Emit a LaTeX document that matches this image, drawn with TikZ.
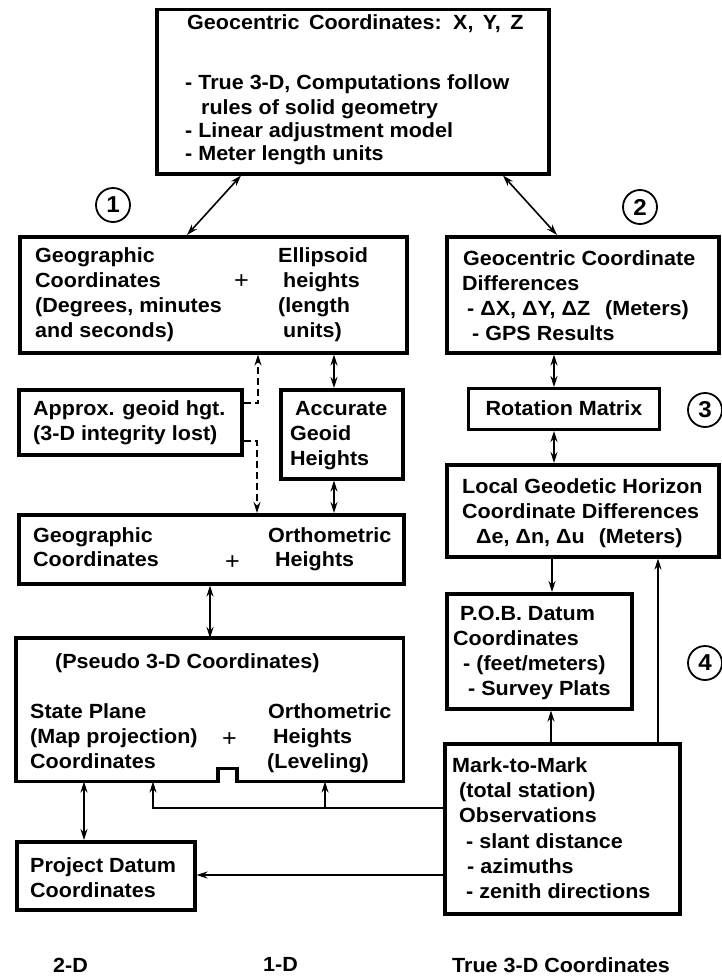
\documentclass[tikz,border=0pt]{standalone}
\usepackage{fontspec}
\setmainfont{Liberation Sans}[FakeStretch=1.05]
\usetikzlibrary{arrows.meta}
\tikzset{
  box/.style={draw, line width=3.5pt, anchor=north west, inner sep=0pt},
  txt/.style={anchor=base west, inner sep=0pt, font=\bfseries\fontsize{20.5}{25}\selectfont},
  plus/.style={anchor=base west, inner sep=0pt, font=\fontsize{24}{25}\selectfont},
  conn/.style={line width=1.6pt},
  arr/.style={conn, -{Stealth[length=11pt,width=7pt]}},
  darr/.style={conn, {Stealth[length=11pt,width=7pt]}-{Stealth[length=11pt,width=7pt]}},
  dashline/.style={dash pattern=on 7pt off 4pt},
  circ/.style={draw, circle, line width=1.8pt, minimum size=34pt, inner sep=0pt, font=\bfseries\fontsize{23}{24}\selectfont}
}
\begin{document}
\begin{tikzpicture}[x=1pt,y=-1pt]
\fill[white] (0,0) rectangle (721,979);
\useasboundingbox (0,0) rectangle (721,979);

% boxes
\node[box, minimum width=392pt, minimum height=164pt] (A) at (155,8) {};
\node[box, minimum width=387pt, minimum height=116pt] (B) at (18,235) {};
\node[box, minimum width=272pt, minimum height=116pt] (C) at (445,235) {};
\node[box, line width=3pt, minimum width=191pt, minimum height=41pt] (R) at (467,387) {};
\node[box, minimum width=272pt, minimum height=92pt] (L) at (445,463) {};
\node[box, minimum width=223pt, minimum height=65pt] (E) at (17,388) {};
\node[box, minimum width=122pt, minimum height=89pt] (F) at (279,388) {};
\node[box, minimum width=385pt, minimum height=69pt] (D) at (17,513) {};
\node[box, draw=none, minimum width=384pt, minimum height=140pt] (P) at (16,638) {};
\draw[line width=3.5pt, line join=miter] (P.south west) -- (218,0 |- P.south) -- ++(0,-13) -- ++(19,0) -- ++(0,13) -- (P.south east) -- (P.north east) -- (P.north west) -- cycle;
\node[box, minimum width=185pt, minimum height=115pt] (Q) at (445,592) {};
\node[box, minimum width=235pt, minimum height=170pt] (M) at (443,742) {};
\node[box, minimum width=178pt, minimum height=68pt] (G) at (15,840) {};

% circles
\node[circ] (c1) at (113,205) {1};
\node[circ] (c2) at (640,207) {2};
\node[circ] (c3) at (705,410) {3};
\node[circ] (c4) at (705,663) {4};

% texts A
\node[txt] (tA1) at (187,30) {Geocentric\, Coordinates:\, X,\, Y,\, Z};
\node[txt] (tA2) at (185,90) {- True 3-D, Computations follow};
\node[txt] (tA3) at (201,114) {rules of solid geometry};
\node[txt] (tA4) at (185,137) {- Linear adjustment model};
\node[txt] (tA5) at (185,160) {- Meter length units};
% texts B
\node[txt] (tB1) at (35,262) {Geographic};
\node[txt] (tB2) at (35,287) {Coordinates};
\node[txt] (tB3) at (35,312) {(Degrees, minutes};
\node[txt] (tB4) at (35,337) {and seconds)};
\node[plus] (tB5) at (234,288) {+};
\node[txt] (tB6) at (278,262) {Ellipsoid};
\node[txt] (tB7) at (283,287) {heights};
\node[txt] (tB8) at (278,312) {(length};
\node[txt] (tB9) at (283,337) {units)};
% texts C
\node[txt] (tC1) at (463,265) {Geocentric Coordinate};
\node[txt] (tC2) at (462,290) {Differences};
\node[txt] (tC3) at (467,315) {- ΔX, ΔY, ΔZ\hspace{9pt} (Meters)};
\node[txt] (tC4) at (472,340) {- GPS Results};
% Rotation
\node[txt, anchor=center] (tR) at ([yshift=1pt]R.center) {Rotation Matrix};
% Local
\node[txt] (tL1) at (462,493) {Local Geodetic Horizon};
\node[txt] (tL2) at (462,518) {Coordinate Differences};
\node[txt] (tL3) at (476,543) {Δe, Δn, Δu\hspace{8pt} (Meters)};
% E
\node[txt] (tE1) at (33,415) {Approx. geoid hgt.};
\node[txt] (tE2) at (33,440) {(3-D integrity lost)};
% F
\node[txt] (tF1) at (295,415) {Accurate};
\node[txt] (tF2) at (290,440) {Geoid};
\node[txt] (tF3) at (290,465) {Heights};
% D
\node[txt] (tD1) at (33,542) {Geographic};
\node[txt] (tD2) at (33,566) {Coordinates};
\node[plus] (tD3) at (225,569) {+};
\node[txt] (tD4) at (268,542) {Orthometric};
\node[txt] (tD5) at (275,566) {Heights};
% P
\node[txt] (tP1) at (55,668) {(Pseudo 3-D Coordinates)};
\node[txt] (tP2) at (30,718) {State Plane};
\node[txt] (tP3) at (30,743) {(Map projection)};
\node[txt] (tP4) at (30,768) {Coordinates};
\node[plus] (tP5) at (222,746) {+};
\node[txt] (tP6) at (268,718) {Orthometric};
\node[txt] (tP7) at (273,743) {Heights};
\node[txt] (tP8) at (267,768) {(Leveling)};
% Q
\node[txt] (tQ1) at (460,620) {P.O.B. Datum};
\node[txt] (tQ2) at (453,645) {Coordinates};
\node[txt] (tQ3) at (463,670) {- (feet/meters)};
\node[txt] (tQ4) at (468,695) {- Survey Plats};
% M
\node[txt] (tM1) at (452,772) {Mark-to-Mark};
\node[txt] (tM2) at (459,797) {(total station)};
\node[txt] (tM3) at (459,822) {Observations};
\node[txt] (tM4) at (466,848) {- slant distance};
\node[txt] (tM5) at (467,873) {- azimuths};
\node[txt] (tM6) at (466,898) {- zenith directions};
% G
\node[txt] (tG1) at (30,872) {Project Datum};
\node[txt] (tG2) at (30,897) {Coordinates};
% bottom labels
\node[txt] (l2) at (53,972) {2-D};
\node[txt] (l1) at (263,971) {1-D};
\node[txt] (l3) at (452,972) {True 3-D Coordinates};

% connectors
\draw[darr] (187,0 |- B.north) -- (241,0 |- A.south);
\draw[darr] (503,0 |- A.south) -- (557,0 |- C.north);
\draw[darr] (334,0 |- B.south) -- (334,0 |- F.north);
\draw[darr] (334,0 |- F.south) -- (334,0 |- D.north);
\draw[arr, dashline] (E.east |- 0,403) -- (258,403) -- (258,0 |- B.south);
\draw[arr, dashline] (E.east |- 0,441) -- (257,441) -- (257,0 |- D.north);
\draw[darr] (210,0 |- D.south) -- (210,0 |- P.north);
\draw[darr] (84,0 |- P.south) -- (84,0 |- G.north);
\coordinate (j1) at (325,808);
\draw[arr] (M.west |- 0,808) -- (153,808) -- (153,0 |- P.south);
\draw[arr] (j1) -- (325,0 |- P.south);
\draw[arr] (M.west |- 0,875) -- (G.east |- 0,875);
\draw[arr] (551,0 |- M.north) -- (551,0 |- Q.south);
\draw[arr] (658,0 |- M.north) -- (658,0 |- L.south);
\draw[arr] (552,0 |- L.south) -- (552,0 |- Q.north);
\draw[darr] (554,0 |- C.south) -- (554,0 |- R.north);
\draw[darr] (554,0 |- R.south) -- (554,0 |- L.north);
\end{tikzpicture}
\end{document}
